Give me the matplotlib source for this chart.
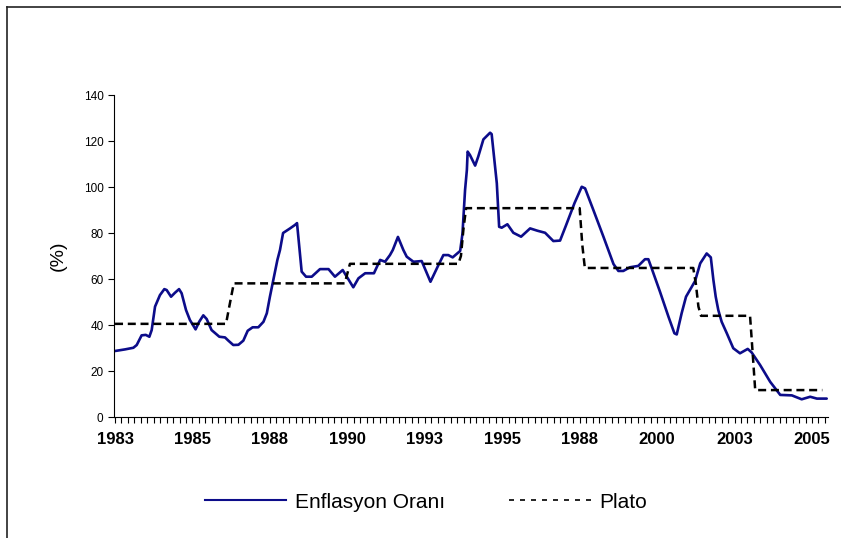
import matplotlib.pyplot as plt
from matplotlib.lines import Line2D
import numpy as np

# months counted from January 1983
months = [0, 3.9, 7.1, 8.4, 10.3, 11.9, 13.3, 14.2, 15.5, 17.4, 19.1, 20, 21.7, 23.2,
          24.8, 25.8, 27.5, 29, 31.2, 32.6, 34.2, 35.5, 37.4, 40.4, 42.6, 43.9, 45.8,
          47.8, 49.7, 51.4, 53.3, 55.5, 57.5, 58.8, 60, 61.6, 62.9, 63.9, 65.1, 67.8,
          69.7, 70.5, 71.5, 72.3, 74, 76.2, 79.4, 82.7, 85.2, 88.2, 92.3, 94.3, 96.9,
          100.3, 102.7, 104.6, 106.5, 107.6, 109.6, 111.7, 113, 115.6, 118.8, 122.2,
          125.3, 127.2, 129.1, 130.8, 133.7, 134.6, 135.6, 136.3, 136.6, 137.5, 139.5,
          140.7, 142.7, 145.3, 145.9, 146.6, 147.9, 148.8, 149.8, 152, 154.3, 157.3,
          160.8, 163.6, 166.6, 169.8, 172.4, 174.6, 178, 180.8, 182.1, 185.3, 189.2,
          193.1, 195, 196.9, 199.5, 202.7, 205.3, 206.6, 207.9, 211.1, 214.4, 216.7,
          217.6, 219.5, 221.2, 224.7, 226.7, 229.2, 230.8, 231.8, 232.7, 233.7, 235,
          237, 239.5, 242.1, 245.1, 246.6, 249.9, 253.8, 257.7, 262.2, 266, 269.3,
          271.9, 275.7]
inflation = [28.7, 29.4, 30.1, 31.3, 35.5, 35.7, 34.9, 37.8, 48, 53, 55.6, 55.2, 52.3, 54,
             55.6, 53.8, 46.5, 42.2, 38.1, 41.4, 44.2, 42.6, 37.8, 34.9, 34.6, 33.2, 31.3,
             31.4, 33.2, 37.5, 39, 39, 41.4, 45.1, 52.3, 61, 68.3, 72.6, 80, 82,
             83.5, 84.3, 72.6, 63.2, 61, 61, 64.3, 64.3, 61, 63.9, 56.4, 60.3, 62.5,
             62.5, 68.3, 67.5, 70.4, 72.6, 78.3, 72.6, 69.7, 67.5, 67.8, 58.8,
             66.1, 70.4, 70.4, 69.4, 72.2, 79.8, 98.7, 107.4, 115.4, 113.9, 109.3,
             113.2, 120.7, 123.6, 123, 115.4, 101.6, 82.7, 82.3, 83.8, 80.1, 78.4,
             82, 81, 80.1, 76.5, 76.7, 83, 93, 100.1, 99.4, 90, 78.4,
             66.5, 63.5, 63.5, 65.1, 65.7, 68.6, 68.6, 64.6, 54.5, 43.6, 36.4,
             35.9, 45.1, 52.3, 59.1, 66.8, 71.1, 69.4, 59.6, 52.3, 46.5, 41.4,
             36.4, 29.9, 27.7, 29.6, 28.1, 22.6, 15.3, 9.6, 9.4, 7.7, 8.8,
             8, 8]

plato_months = [0, 43, 44, 46, 89, 91, 133, 134, 135, 136, 180, 181, 182, 224, 225, 226,
                227, 246, 247, 248, 274]
plato = [40.5, 40.5, 46.5, 58.1, 58.1, 66.6, 66.6, 70, 82, 90.8, 90.8, 75, 64.8, 64.8, 58,
         48, 44, 44, 28, 11.7, 11.7]

tick_months = [0, 30, 60, 90, 120, 150, 180, 210, 240, 270]
tick_labels = ["1983", "1985", "1988", "1990", "1993", "1995", "1988", "2000", "2003", "2005"]

W, H = 841, 538
fig = plt.figure(figsize=(W / 100, H / 100), dpi=100)
plt.rcParams["font.family"] = ["Liberation Sans", "DejaVu Sans"]
ax = fig.add_axes([114 / W, 1 - 417 / H, 714 / W, 322 / H])

ax.plot(months, inflation, color="#0c0c8a", linewidth=1.9,
        solid_joinstyle="round", solid_capstyle="round")
ax.plot(plato_months, plato, color="black", linewidth=1.8, dashes=(3.2, 1.9))

ax.set_xlim(-0.4, 276.2)
ax.set_ylim(0, 140)
for side in ("top", "right"):
    ax.spines[side].set_visible(False)
for side in ("left", "bottom"):
    ax.spines[side].set_linewidth(0.8)

ax.set_yticks(np.arange(0, 141, 20))
ax.tick_params(axis="y", direction="out", length=4, width=0.8, pad=3.5, labelsize=8.5)
ax.set_xticks(tick_months)
ax.set_xticklabels(tick_labels, fontweight="bold", fontsize=12)
ax.set_xticks(np.arange(0, 277, 2.5), minor=True)
ax.tick_params(axis="x", which="both", direction="out", length=4, width=0.8, pad=7)

ax.set_ylabel("(%)", fontsize=14, labelpad=12)

handles = [
    Line2D([], [], color="#0c0c8a", linewidth=1.5),
    Line2D([], [], color="black", linewidth=1.2, dashes=(3.0, 3.6)),
]
fig.legend(handles, ["Enflasyon Oranı", "Plato"], loc="center",
           bbox_to_anchor=(426 / W, 1 - 502 / H), ncol=2, frameon=False,
           fontsize=15, handlelength=3.9, handletextpad=0.4, columnspacing=3.1)

# chart area border, only top and left edges are inside the picture
fig.add_artist(Line2D([6.5 / W, 1], [1 - 6.5 / H, 1 - 6.5 / H], color="#222222", linewidth=1.2))
fig.add_artist(Line2D([6.5 / W, 6.5 / W], [0, 1 - 6.5 / H], color="#222222", linewidth=1.2))

fig.savefig("out.png", dpi=100)
